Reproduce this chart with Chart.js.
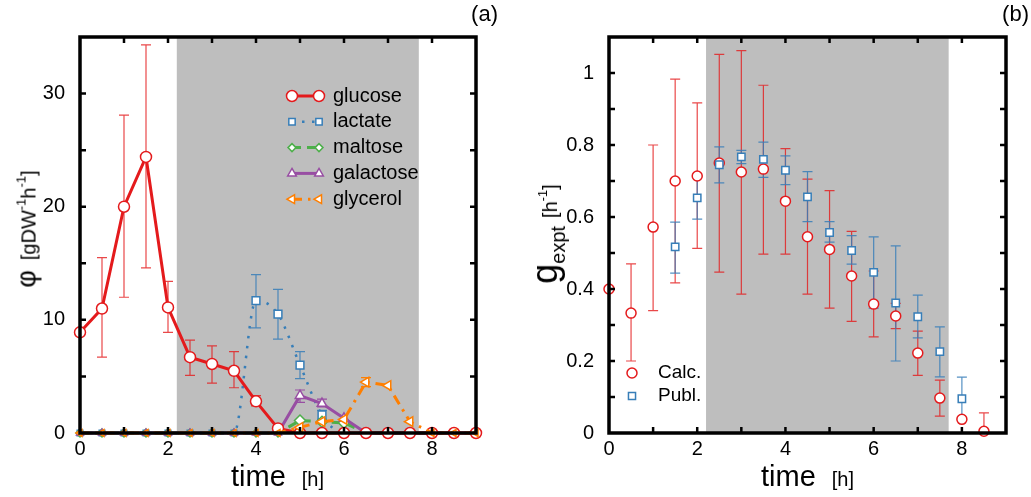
<!DOCTYPE html>
<html>
<head>
<meta charset="utf-8">
<script src="https://cdn.jsdelivr.net/npm/chart.js@4.4.0/dist/chart.umd.min.js"></script>
<style>
  body { margin: 0; background: #fff; width: 1031px; height: 497px; position: relative; overflow: hidden;
         font-family: "Liberation Sans", Arial, sans-serif; color: #000; }
  .panel { position: absolute; top: 0; width: 515px; height: 497px; }
  .lbl { position: absolute; white-space: nowrap; line-height: 1; }
  .rot { transform: translate(-50%, -50%) rotate(-90deg); }
  sup { font-size: 13px; vertical-align: 0; position: relative; top: -0.75em; }
</style>
</head>
<body>
<div class="panel" style="left:0"><canvas id="chartA"></canvas></div>
<div class="panel" style="left:516px"><canvas id="chartB"></canvas></div>

<div class="lbl" style="left:231px; top:462px; font-size:29px;">time<span style="font-size:20px; margin-left:16px;">[h]</span></div>
<div class="lbl" style="left:761px; top:462px; font-size:29px;">time<span style="font-size:20px; margin-left:16px;">[h]</span></div>
<div class="lbl rot" style="left:27px; top:229px;"><span style="font-size:27px;">φ</span><span style="font-size:20px; margin-left:10px;">[gDW<sup>-1</sup>h<sup>-1</sup>]</span></div>
<div class="lbl rot" style="left:545px; top:234px;"><span style="font-size:36px;">g</span><span style="font-size:20px; position:relative; top:8px;">expt</span><span style="font-size:20px; margin-left:8px;">[h<sup>-1</sup>]</span></div>
<div class="lbl" style="right:533px; top:3px; font-size:22px;">(a)</div>
<div class="lbl" style="right:2px; top:3px; font-size:22px;">(b)</div>

<script>
// ---------- panel (a): uptake / secretion rates ----------
const times = [0, 0.5, 1, 1.5, 2, 2.5, 3, 3.5, 4, 4.5, 5, 5.5, 6, 6.5, 7, 7.5, 8, 8.5, 9];
const glucose     = [8.9, 11.0, 20.0, 24.4, 11.1, 6.7, 6.1, 5.5, 2.8, 0.4, 0, 0, 0, 0, 0, 0, 0, 0, 0];
const glucoseLo   = [null, 6.7, 12.0, 14.6, 8.9, 5.1, 4.4, 4.0, 2.4, null, null, null, null, null, null, null, null, null, null];
const glucoseHi   = [null, 15.5, 28.1, 34.3, 13.4, 8.2, 7.7, 7.2, 3.3, null, null, null, null, null, null, null, null, null, null];
const lactate     = [0, 0, 0, 0, 0, 0, 0, 0, 11.7, 10.5, 6.0, 1.6, 0, 0, 0, 0, 0, 0, 0];
const lactateLo   = [null, null, null, null, null, null, null, null, 9.3, 8.3, 4.8, 1.2, null, null, null, null, null, null, null];
const lactateHi   = [null, null, null, null, null, null, null, null, 14.0, 12.7, 7.2, 2.0, null, null, null, null, null, null, null];
const maltose     = [0, 0, 0, 0, 0, 0, 0, 0, 0, 0, 1.1, 1.0, 0.9, 0, 0, 0, 0, 0, 0];
const galactose   = [0, 0, 0, 0, 0, 0, 0, 0, 0, 0, 3.3, 2.6, 1.3, 0, 0, 0, 0, 0, 0];
const galactoseLo = [null, null, null, null, null, null, null, null, null, null, 2.7, 2.3, null, null, null, null, null, null, null];
const galactoseHi = [null, null, null, null, null, null, null, null, null, null, 3.8, 3.0, null, null, null, null, null, null, null];
const glycerol    = [0, 0, 0, 0, 0, 0, 0, 0, 0, 0, 0.5, 1.0, 1.2, 4.5, 4.2, 1.0, 0, 0, 0];
const glycerolLo  = [null, null, null, null, null, null, null, null, null, null, null, null, null, 4.1, null, null, null, null, null];
const glycerolHi  = [null, null, null, null, null, null, null, null, null, null, null, null, null, 4.9, null, null, null, null, null];

// ---------- panel (b): growth rate ----------
const calcTimes = [0, 0.5, 1, 1.5, 2, 2.5, 3, 3.5, 4, 4.5, 5, 5.5, 6, 6.5, 7, 7.5, 8, 8.5];
const calc      = [0.40, 0.333, 0.572, 0.70, 0.714, 0.75, 0.725, 0.733, 0.644, 0.545, 0.51, 0.436, 0.358, 0.325, 0.222, 0.097, 0.038, 0.005];
const calcLo    = [null, 0.20, 0.34, 0.417, 0.513, 0.447, 0.386, 0.497, 0.497, 0.386, 0.347, 0.31, 0.267, 0.29, 0.16, 0.047, null, 0];
const calcHi    = [null, 0.47, 0.80, 0.983, 0.917, 1.052, 1.062, 0.966, 0.79, 0.705, 0.673, 0.56, 0.45, 0.36, 0.283, 0.147, null, 0.056];
const publTimes = [1.5, 2, 2.5, 3, 3.5, 4, 4.5, 5, 5.5, 6, 6.5, 7, 7.5, 8];
const publ      = [0.517, 0.653, 0.745, 0.767, 0.76, 0.73, 0.656, 0.557, 0.507, 0.446, 0.361, 0.323, 0.226, 0.095];
const publLo    = [0.444, 0.594, 0.695, 0.748, 0.71, 0.69, 0.587, 0.53, 0.469, 0.347, 0.2, 0.264, 0.156, 0.04];
const publHi    = [0.586, 0.714, 0.795, 0.785, 0.808, 0.77, 0.726, 0.587, 0.548, 0.545, 0.52, 0.383, 0.295, 0.155];

// shaded interval and axis ticks
const shadeSpan    = [2.2, 7.7];
const xTickLabels  = [0, 2, 4, 6, 8];
const xMinorTicks  = [1, 2, 3, 4, 5, 6, 7, 8];
const yTickLabelsA = [0, 10, 20, 30];
const yMinorTicksA = [5, 10, 15, 20, 25, 30];
const yTickLabelsB = [0, 0.2, 0.4, 0.6, 0.8, 1];
const yMinorTicksB = [0.1, 0.2, 0.3, 0.4, 0.5, 0.6, 0.7, 0.8, 0.9, 1.0];

const RED = '#e41a1c', BLUE = '#377eb8', GREEN = '#4daf4a', PURPLE = '#984ea3', ORANGE = '#ff7f00';
const RED_ERR = 'rgba(228,26,28,0.8)', BLUE_ERR = 'rgba(55,126,184,0.85)';
const FONT = '"Liberation Sans", Arial, sans-serif';

Chart.defaults.font.family = FONT;
Chart.defaults.color = '#000';

function pts(xs, ys) {
  return xs.map((t, i) => ({ x: t, y: ys[i] }));
}

function marker(ctx, style, rotation, radius, color, x, y) {
  ctx.save();
  ctx.setLineDash([]);
  ctx.fillStyle = '#fff';
  ctx.strokeStyle = color;
  ctx.lineWidth = 1.5;
  Chart.helpers.drawPoint(ctx, { pointStyle: style, rotation: rotation, radius: radius, borderWidth: 1.5 }, x, y);
  ctx.restore();
}

// shading, error bars, frame with inward ticks, legend
const decor = {
  id: 'decor',
  beforeDatasetsDraw(chart, args, o) {
    const { ctx, chartArea: a, scales: { x, y } } = chart;
    ctx.save();
    const x0 = x.getPixelForValue(o.shade[0]), x1 = x.getPixelForValue(o.shade[1]);
    ctx.fillStyle = '#bebebe';
    ctx.fillRect(x0, a.top, x1 - x0, a.bottom - a.top);

    ctx.lineWidth = 1.2;
    o.errors.forEach(e => {
      ctx.strokeStyle = e.color;
      e.x.forEach((t, i) => {
        if (e.lo[i] == null) return;
        const px = x.getPixelForValue(t);
        const pl = y.getPixelForValue(e.lo[i]), ph = y.getPixelForValue(e.hi[i]);
        ctx.beginPath();
        ctx.moveTo(px, pl); ctx.lineTo(px, ph);
        ctx.moveTo(px - 5, pl); ctx.lineTo(px + 5, pl);
        ctx.moveTo(px - 5, ph); ctx.lineTo(px + 5, ph);
        ctx.stroke();
      });
    });
    ctx.restore();
  },
  afterDraw(chart, args, o) {
    const { ctx, chartArea: a, scales: { x, y } } = chart;
    ctx.save();
    ctx.strokeStyle = '#000';
    ctx.lineWidth = 2.5;
    ctx.beginPath();
    o.xMinor.forEach(v => {
      const px = x.getPixelForValue(v);
      ctx.moveTo(px, a.bottom); ctx.lineTo(px, a.bottom - 6);
      ctx.moveTo(px, a.top); ctx.lineTo(px, a.top + 6);
    });
    o.yMinor.forEach(v => {
      const py = y.getPixelForValue(v);
      ctx.moveTo(a.left, py); ctx.lineTo(a.left + 6, py);
      ctx.moveTo(a.right, py); ctx.lineTo(a.right - 6, py);
    });
    ctx.stroke();
    ctx.lineWidth = 3.5;
    ctx.strokeRect(a.left, a.top, a.right - a.left, a.bottom - a.top);

    // legend
    ctx.font = o.legendFont + 'px ' + FONT;
    ctx.textBaseline = 'middle';
    ctx.textAlign = 'left';
    o.legend.forEach((it, i) => {
      const ly = a.top + o.legendY + i * o.legendStep;
      const lx = a.left + o.legendX;
      if (it.lineWidth) {
        ctx.save();
        ctx.strokeStyle = it.color;
        ctx.lineWidth = it.lineWidth;
        ctx.setLineDash(it.dash || []);
        ctx.beginPath();
        ctx.moveTo(lx, ly); ctx.lineTo(lx + o.legendLen, ly);
        ctx.stroke();
        ctx.restore();
        marker(ctx, it.style, it.rotation || 0, it.radius, it.color, lx + o.legendLen, ly);
      }
      marker(ctx, it.style, it.rotation || 0, it.radius, it.color, lx, ly);
      ctx.fillStyle = '#000';
      ctx.fillText(it.label, lx + o.legendText, ly);
    });
    ctx.restore();
  }
};

function axes(yMax, yLabels, leftWidth) {
  return {
    x: {
      type: 'linear', min: 0, max: 9,
      grid: { display: false }, border: { display: false },
      afterBuildTicks: s => { s.ticks = xTickLabels.map(v => ({ value: v })); },
      afterFit: s => { s.height = 64; },
      ticks: { font: { size: 20 }, color: '#000', padding: -4, maxRotation: 0, autoSkip: false }
    },
    y: {
      type: 'linear', min: 0, max: yMax,
      grid: { display: false }, border: { display: false },
      afterBuildTicks: s => { s.ticks = yLabels.map(v => ({ value: v })); },
      afterFit: s => { s.width = leftWidth; },
      ticks: { font: { size: 20 }, color: '#000', padding: 7, autoSkip: false, callback: v => String(v) }
    }
  };
}

function lineSet(label, values, color, style, extra) {
  return Object.assign({
    label: label,
    data: pts(times, values),
    borderColor: color,
    backgroundColor: '#fff',
    pointBackgroundColor: '#fff',
    pointBorderColor: color,
    pointBorderWidth: 1.5,
    borderWidth: 3,
    pointStyle: style,
    pointRadius: c => (c.raw && c.raw.y === 0 ? 4 : 5.5),
    tension: 0,
    clip: false
  }, extra);
}

new Chart(document.getElementById('chartA'), {
  type: 'line',
  data: {
    datasets: [
      lineSet('glucose', glucose, RED, 'circle', { order: 2, pointRadius: 5.5 }),
      lineSet('lactate', lactate, BLUE, 'rect', { order: 5, borderDash: [2.5, 7.5], borderWidth: 2.5, cubicInterpolationMode: 'monotone' }),
      lineSet('maltose', maltose, GREEN, 'rectRot', { order: 4, borderDash: [9, 6] }),
      lineSet('galactose', galactose, PURPLE, 'triangle', { order: 3 }),
      lineSet('glycerol', glycerol, ORANGE, 'triangle', { order: 1, pointRotation: -90, borderDash: [10, 6, 2.5, 6] })
    ]
  },
  options: {
    responsive: true, maintainAspectRatio: false, animation: false,
    layout: { padding: { top: 37, right: 39, left: 0, bottom: 0 } },
    scales: axes(35, yTickLabelsA, 80),
    plugins: {
      legend: { display: false }, tooltip: { enabled: false },
      decor: {
        shade: shadeSpan, xMinor: xMinorTicks, yMinor: yMinorTicksA,
        errors: [
          { x: times, lo: glucoseLo, hi: glucoseHi, color: RED_ERR },
          { x: times, lo: lactateLo, hi: lactateHi, color: BLUE_ERR },
          { x: times, lo: galactoseLo, hi: galactoseHi, color: PURPLE },
          { x: times, lo: glycerolLo, hi: glycerolHi, color: ORANGE }
        ],
        legendFont: 20, legendX: 212, legendY: 59, legendStep: 25.8, legendLen: 27, legendText: 41,
        legend: [
          { label: 'glucose', color: RED, style: 'circle', radius: 5.5, lineWidth: 3 },
          { label: 'lactate', color: BLUE, style: 'rect', radius: 4.5, lineWidth: 2.5, dash: [2.5, 7.5] },
          { label: 'maltose', color: GREEN, style: 'rectRot', radius: 4, lineWidth: 3, dash: [9, 6] },
          { label: 'galactose', color: PURPLE, style: 'triangle', radius: 5, lineWidth: 3 },
          { label: 'glycerol', color: ORANGE, style: 'triangle', rotation: -90, radius: 5, lineWidth: 3, dash: [10, 6, 2.5, 6] }
        ]
      }
    }
  },
  plugins: [decor]
});

new Chart(document.getElementById('chartB'), {
  type: 'line',
  data: {
    datasets: [
      { label: 'Publ.', data: pts(publTimes, publ), showLine: false, order: 1, clip: false,
        pointStyle: 'rect', pointRadius: 5.2, pointBorderWidth: 1.5,
        pointBackgroundColor: '#fff', pointBorderColor: BLUE },
      { label: 'Calc.', data: pts(calcTimes, calc), showLine: false, order: 2, clip: false,
        pointStyle: 'circle', pointRadius: 5, pointBorderWidth: 1.5,
        pointBackgroundColor: '#fff', pointBorderColor: RED }
    ]
  },
  options: {
    responsive: true, maintainAspectRatio: false, animation: false,
    layout: { padding: { top: 37, right: 25, left: 0, bottom: 0 } },
    scales: axes(1.1, yTickLabelsB, 93),
    plugins: {
      legend: { display: false }, tooltip: { enabled: false },
      decor: {
        shade: shadeSpan, xMinor: xMinorTicks, yMinor: yMinorTicksB,
        errors: [
          { x: calcTimes, lo: calcLo, hi: calcHi, color: RED_ERR },
          { x: publTimes, lo: publLo, hi: publHi, color: BLUE_ERR }
        ],
        legendFont: 19, legendX: 23, legendY: 336, legendStep: 23, legendLen: 0, legendText: 26,
        legend: [
          { label: 'Calc.', color: RED, style: 'circle', radius: 5 },
          { label: 'Publ.', color: BLUE, style: 'rect', radius: 5 }
        ]
      }
    }
  },
  plugins: [decor]
});
</script>
</body>
</html>
